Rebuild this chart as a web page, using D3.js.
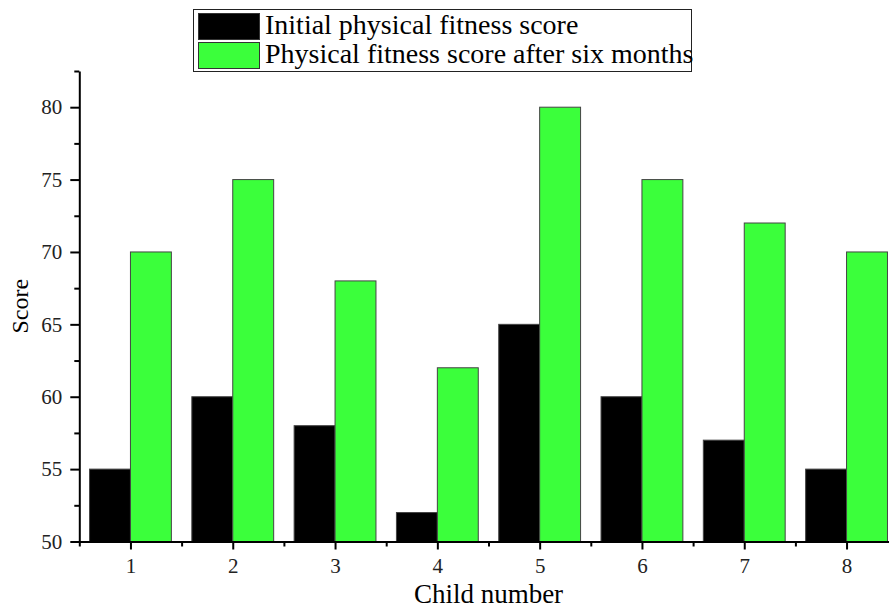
<!DOCTYPE html>
<html>
<head>
<meta charset="utf-8">
<script src="https://cdn.jsdelivr.net/npm/d3@7"></script>
<style>
  body { margin: 0; background: #fff; }
  svg { display: block; font-family: "Liberation Serif", "Times New Roman", serif; }
</style>
</head>
<body>
<svg id="chart"></svg>
<script>
const children = [1, 2, 3, 4, 5, 6, 7, 8];
const initialScores = [55, 60, 58, 52, 65, 60, 57, 55];
const afterScores = [70, 75, 68, 62, 80, 75, 72, 70];
const seriesNames = ["Initial physical fitness score", "Physical fitness score after six months"];
const seriesColors = ["#000000", "#3bff3b"];
const yTicks = [50, 55, 60, 65, 70, 75, 80];

const width = 889, height = 610;
const svg = d3.select('#chart').attr('width', width).attr('height', height);

// plot area runs past the right edge of the window, like the original
const plotLeft = 79.3, step = 102.3, plotBottom = 541.5, plotTop = 71;

const x = d3.scaleLinear().domain([0.5, 8.5]).range([plotLeft, plotLeft + 8 * step]);
const y = d3.scaleLinear().domain([50, 82.5]).range([plotBottom, plotTop]);

const barW = 0.4;

// bars
const series = [initialScores, afterScores];
series.forEach((vals, s) => {
    svg.append('g').selectAll('rect')
        .data(vals)
        .join('rect')
        .attr('x', (d, i) => x(children[i] - barW + s * barW))
        .attr('y', d => y(d))
        .attr('width', x(1 + barW) - x(1))
        .attr('height', d => y(50) - y(d))
        .attr('fill', seriesColors[s])
        .attr('stroke', '#444')
        .attr('stroke-width', 1);
});

// minor ticks first, then the major axis on top
const yMinor = d3.range(52.5, 83, 5);
svg.append('g')
    .attr('transform', `translate(${plotLeft},0)`)
    .call(d3.axisLeft(y).tickValues(yMinor).tickSize(5).tickFormat(''))
    .call(g => g.select('.domain').remove())
    .call(g => g.selectAll('line').attr('stroke-width', 2));

const xMinor = d3.range(0.5, 9, 1);
svg.append('g')
    .attr('transform', `translate(0,${plotBottom})`)
    .call(d3.axisBottom(x).tickValues(xMinor).tickSize(5).tickFormat(''))
    .call(g => g.select('.domain').remove())
    .call(g => g.selectAll('line').attr('stroke-width', 2));

let axisLeft = d3.axisLeft(y).tickValues(yTicks).tickSize(9).tickSizeOuter(0).tickPadding(8);
svg.append('g')
    .attr('transform', `translate(${plotLeft},0)`)
    .call(axisLeft)
    .call(g => g.select('.domain').attr('stroke-width', 2))
    .call(g => g.selectAll('line').attr('stroke-width', 2))
    .call(g => g.selectAll('text')
        .attr('font-family', '"Liberation Serif", serif')
        .attr('font-size', 21).attr('fill', '#222'));

let axisBottom = d3.axisBottom(x).tickValues(children).tickSize(8).tickSizeOuter(0).tickPadding(9);
svg.append('g')
    .attr('transform', `translate(0,${plotBottom})`)
    .call(axisBottom)
    .call(g => g.select('.domain').attr('stroke-width', 2))
    .call(g => g.selectAll('line').attr('stroke-width', 2))
    .call(g => g.selectAll('text')
        .attr('font-family', '"Liberation Serif", serif')
        .attr('font-size', 21).attr('fill', '#222'));

// axis titles
svg.append('text')
    .attr('x', (x.range()[0] + x.range()[1]) / 2)
    .attr('y', 603)
    .attr('text-anchor', 'middle')
    .attr('font-size', 27)
    .text('Child number');

svg.append('text')
    .attr('transform', `translate(28,${(plotTop + plotBottom) / 2}) rotate(-90)`)
    .attr('text-anchor', 'middle')
    .attr('font-size', 24)
    .text('Score');

// legend
const legend = svg.append('g');
legend.append('rect')
    .attr('x', 193.5).attr('y', 9.5)
    .attr('width', 498).attr('height', 62)
    .attr('fill', '#fff').attr('stroke', '#222').attr('stroke-width', 1);

const items = legend.selectAll('g.item')
    .data(seriesNames)
    .join('g')
    .attr('class', 'item')
    .attr('transform', (d, i) => `translate(0,${i * 29})`);

items.append('rect')
    .attr('x', 198.5).attr('y', 13.5)
    .attr('width', 61).attr('height', 26)
    .attr('fill', (d, i) => seriesColors[i])
    .attr('stroke', '#333').attr('stroke-width', 1);

items.append('text')
    .attr('x', 265).attr('y', 34)
    .attr('font-size', 28)
    .text(d => d);
</script>
</body>
</html>
